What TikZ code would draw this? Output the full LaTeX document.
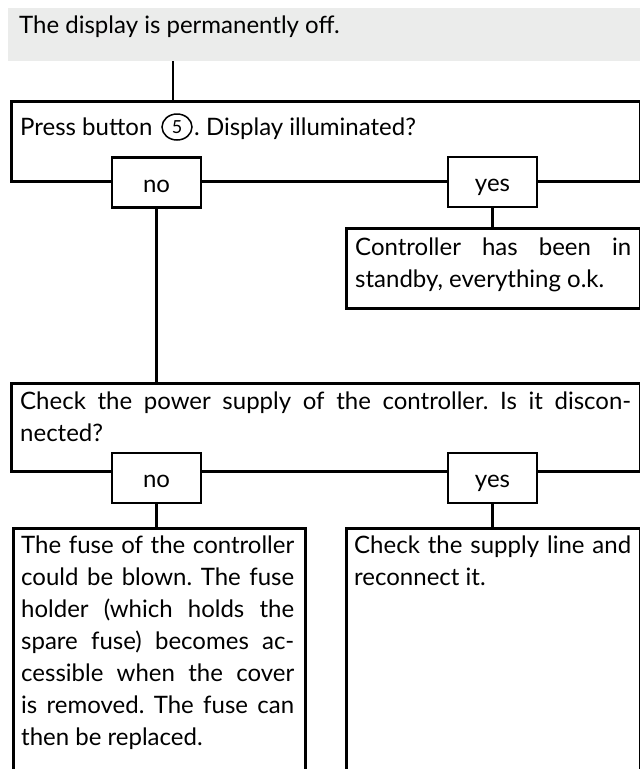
\documentclass[tikz,border=0pt]{standalone}
\usepackage{fontspec}
\setmainfont{Lato}
\usetikzlibrary{shapes.geometric}
\definecolor{graybg}{RGB}{235,236,235}
\frenchspacing
\begin{document}
\begin{tikzpicture}[x=1pt,y=-1pt,
  frame/.style={draw=black,line width=2.6pt,fill=white,inner sep=0pt,anchor=north west},
  lbl/.style={draw=black,line width=2.6pt,fill=white,inner sep=0pt,minimum width=89pt,minimum height=50pt,text height=19pt,text depth=0pt,font=\fontsize{24}{32}\selectfont},
  txt/.style={inner sep=0pt,anchor=base west,font=\fontsize{24}{32}\selectfont\frenchspacing},
  jtxt/.style={txt,align=justify},
  conn/.style={line width=2.6pt}]
\useasboundingbox (0,0) rectangle (640,769);
\clip (0,0) rectangle (640,769);

% start box
\node[fill=graybg,anchor=north west,minimum width=632pt,minimum height=53pt,inner sep=0pt] (start) at (8,8) {};
\node[txt] (starttxt) at (19,33) {The display is permanently off.};
\coordinate (t1) at (173,61);

% question 1
\node[frame,minimum width=629pt,minimum height=80pt] (q1) at (10,100) {};
\draw[conn] (t1) -- (t1 |- q1.north);
\node[txt] (q1a) at (20,135) {Press button};
\node[draw,ellipse,line width=1.5pt,minimum width=30pt,minimum height=26pt,inner sep=0pt,font=\fontsize{18}{18}\selectfont] (five) at (177,127) {5};
\node[txt] (q1b) at (194,135) {. Display illuminated?};

% answers 1
\node[lbl] (no1) at (156.5,182.5) {no};
\node[lbl] (yes1) at (492.5,182) {yes};

% controller in standby
\node[frame,minimum width=294pt,minimum height=80pt] (ctrl) at (345,227) {};
\draw[conn] (yes1.south) -- (yes1.south |- ctrl.north);
\node[jtxt,text width=276pt] (ctrltxt) at (355,255) {Controller has been in\linebreak standby, everything o.k.};

% question 2
\node[frame,minimum width=629pt,minimum height=88pt] (q2) at (10,382) {};
\draw[conn] (no1.south) -- (no1.south |- q2.north);
\node[jtxt,text width=611pt] (q2txt) at (20,409) {Check the power supply of the controller. Is it discon-\linebreak nected?};

% answers 2
\node[lbl] (no2) at (156.5,478) {no};
\node[lbl] (yes2) at (492.5,478) {yes};

% fuse box
\node[frame,minimum width=292pt,minimum height=262pt] (fuse) at (12,527) {};
\draw[conn] (no2.south) -- (no2.south |- fuse.north);
\node[jtxt,text width=273pt] (fusetxt) at (21,553) {The fuse of the controller\linebreak could be blown. The fuse\linebreak holder (which holds the\linebreak spare fuse) becomes ac-\linebreak cessible when the cover\linebreak is removed. The fuse can\linebreak then be replaced.};

% supply box
\node[frame,minimum width=294pt,minimum height=262pt] (supply) at (345,527) {};
\draw[conn] (yes2.south) -- (yes2.south |- supply.north);
\node[jtxt,text width=277pt] (supplytxt) at (354,553) {Check the supply line and\linebreak reconnect it.};
\end{tikzpicture}
\end{document}
